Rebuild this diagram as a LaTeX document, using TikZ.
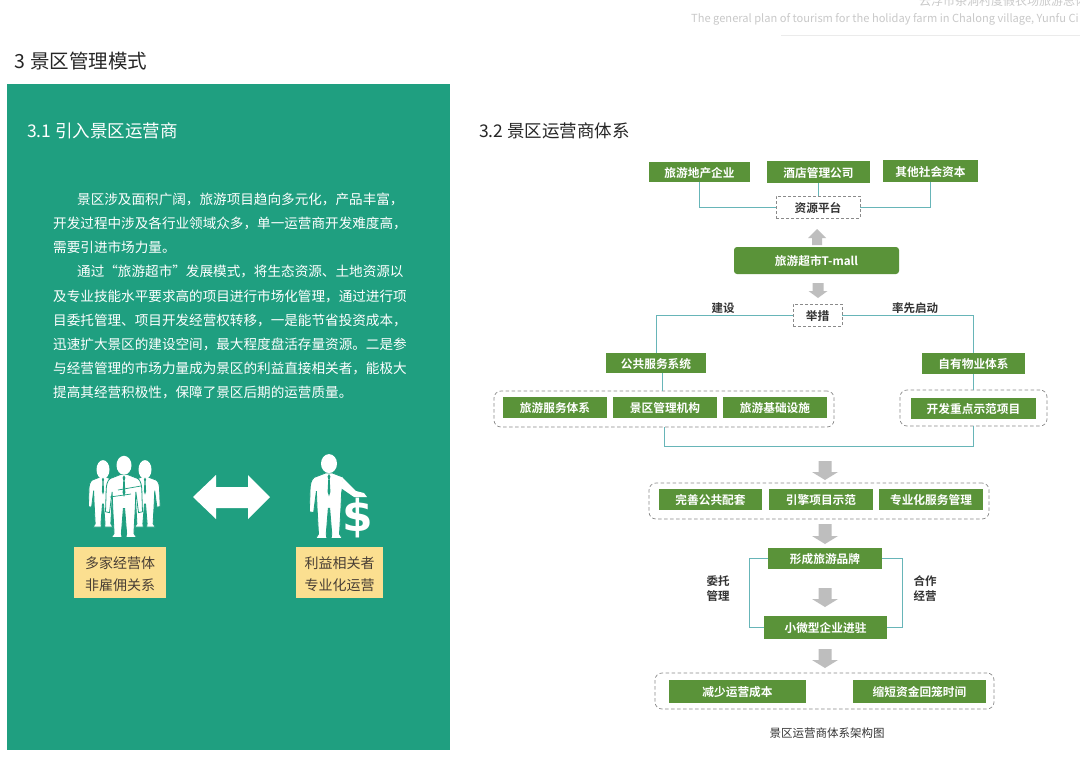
\documentclass[tikz,border=0pt]{standalone}
\usepackage{fontspec}
\setmainfont{Noto Sans CJK SC}[BoldFont=* Bold]
\newfontfamily\iconfont{DejaVu Sans}[BoldFont=* Bold]
\definecolor{panel}{HTML}{1F9F80}
\definecolor{leaf}{HTML}{5A9339}
\definecolor{teal}{HTML}{67B5B8}
\definecolor{arrowgray}{HTML}{BEBEBE}
\definecolor{dashgray}{HTML}{8A8A8A}
\definecolor{labelyellow}{HTML}{FBDF90}
\definecolor{darktext}{HTML}{333333}
\definecolor{paletext}{HTML}{C9C9C9}
\tikzset{
  gbox/.style={fill=leaf,text=white,inner sep=0pt,text height=11pt,text depth=1pt,font=\fontsize{11.7}{13}\selectfont\bfseries,draw=none},
  dashbox/.style={draw=dashgray,dash pattern=on 3pt off 2pt,line width=.7pt,fill=white,inner sep=0pt,text height=11pt,text depth=1pt,text=darktext,font=\fontsize{11.7}{13}\selectfont\bfseries},
  groupbox/.style={draw=dashgray,dash pattern=on 3.5pt off 2.5pt,line width=.7pt,rounded corners=7pt,inner sep=0pt},
  wire/.style={draw=teal,line width=.9pt},
  graylabel/.style={text=darktext,inner sep=0pt,font=\fontsize{11.5}{15}\selectfont\bfseries,align=center},
  heading/.style={inner sep=0pt,anchor=west},
  yellowbox/.style={fill=labelyellow,inner sep=0pt},
  yellowtext/.style={text=darktext!85!brown,inner sep=0pt,align=center,font=\fontsize{14}{22}\selectfont},
  figure/.style={fill=white,draw=panel,line width=.8pt},
}
% block arrow: centre x, tail y, tip y, half head width, half shaft width, head length
\newcommand{\blockarrow}[6]{%
  \fill[arrowgray] (#1-#5,#2) -- (#1+#5,#2) -- (#1+#5,{#3+(#2>#3?1:-1)*#6}) -- (#1+#4,{#3+(#2>#3?1:-1)*#6}) -- (#1,#3) -- (#1-#4,{#3+(#2>#3?1:-1)*#6}) -- (#1-#5,{#3+(#2>#3?1:-1)*#6}) -- cycle;}
\newcommand{\hangingarm}{(18,42) -- (22,67) -- (28,66) -- (27,40) .. controls (27,34) and (25,28) .. (21,26)}
\newcommand{\raisedarm}{(18,44) -- (20,34) -- (21,26)}
% white standing figure: x, y of head top, x scale, y scale, half head width (pt), right-arm path
\newcommand{\suitman}[6]{%
 \begin{scope}[shift={(#1,#2)},x=#3 pt,y=-#4 pt]
  \path[figure] (-5,21) -- (-21,26) .. controls (-25,28) and (-27,34) .. (-27,40) -- (-28,66) -- (-22,67) -- (-18,42) -- (-17,62) -- (-15,92) -- (-19,97) -- (-3,97) -- (-4,92) -- (-1,62) -- (1,62) -- (4,92) -- (3,97) -- (19,97) -- (15,92) -- (17,62) -- #6 -- (5,21) -- cycle;
  \fill[white] (0,10) ellipse (#5pt and 9.5pt);
  \fill[panel] (0,22) -- (-2,25) -- (-1,28) -- (-2,43) -- (0,48) -- (2,43) -- (1,28) -- (2,25) -- cycle;
 \end{scope}}
\begin{document}
\begin{tikzpicture}[x=1pt,y=-1pt]
\useasboundingbox (0,0) rectangle (1080,774);
\clip (0,0) rectangle (1080,774);
\fill[white] (0,0) rectangle (1080,774);
% header
\node[heading,text=paletext,font=\fontsize{12}{14}\selectfont] (hcn) at (919,1) {云浮市茶洞村度假农场旅游总体规划};
\node[heading,text=paletext,font=\fontsize{11.1}{14}\selectfont] (hen) at (691,19.5) {The general plan of tourism for the holiday farm in Chalong village, Yunfu Ci};
\draw[draw=black!8,line width=1pt] (781,35) -- (1080,35);
% titles
\node[heading,text=black!85,font=\fontsize{19.5}{22}\selectfont] (t3) at (14,61) {3\hspace{1pt} 景区管理模式};
\fill[panel] (7,84) rectangle (450,750);
\node[heading,text=white,font=\fontsize{17.5}{20}\selectfont] (t31) at (27,131) {3.1 引入景区运营商};
\node[heading,text=black!85,font=\fontsize{17.5}{20}\selectfont] (t32) at (479,131) {3.2 景区运营商体系};
% paragraph
\node[anchor=north west,inner sep=0pt,text=white,align=left,font=\fontsize{13.6}{24.2}\selectfont] (para) at (53,192.5) {%
\hspace*{24pt}景区涉及面积广阔，旅游项目趋向多元化，产品丰富，\\
开发过程中涉及各行业领域众多，单一运营商开发难度高，\\
需要引进市场力量。\\
\hspace*{24pt}通过“旅游超市”发展模式，将生态资源、土地资源以\\
及专业技能水平要求高的项目进行市场化管理，通过进行项\\
目委托管理、项目开发经营权转移，一是能节省投资成本，\\
迅速扩大景区的建设空间，最大程度盘活存量资源。二是参\\
与经营管理的市场力量成为景区的利益直接相关者，能极大\\
提高其经营积极性，保障了景区后期的运营质量。};
% icons
\suitman{103}{463}{.52}{.66}{6.5}{\hangingarm}
\suitman{145}{463}{.54}{.66}{6.5}{\hangingarm}
\suitman{124}{457}{.66}{.83}{7.5}{\hangingarm}
\draw[panel,line width=.7pt] (110,497) -- (131,494) (118,490) -- (141,486);
\suitman{329}{455}{.7}{.86}{8}{\raisedarm}
\node[inner sep=0pt,text=white,font=\iconfont\fontsize{44}{44}\selectfont\bfseries] (dollar) at (358,518) {\$};
\fill[white] (343,478) -- (356,491) -- (364,493) -- (367,497) -- (354,497) -- (341,488) -- cycle;
\fill[white] (193,497) -- (216,475) -- (216,487) -- (248,487) -- (248,475) -- (270,497) -- (248,519) -- (248,508) -- (216,508) -- (216,519) -- cycle;
\node[yellowbox,minimum width=92pt,minimum height=51pt] (ylw1) at (120,572.5) {};
\node[yellowtext] (ylw1t) at (120,574) {多家经营体\\非雇佣关系};
\node[yellowbox,minimum width=87pt,minimum height=51pt] (ylw2) at (339.5,572.5) {};
\node[yellowtext] (ylw2t) at (339.5,574) {利益相关者\\专业化运营};
% groups
\node[groupbox,minimum width=340pt,minimum height=36pt] (g1) at (664,409) {};
\node[groupbox,minimum width=147pt,minimum height=36pt] (g2) at (973.5,408) {};
\node[groupbox,minimum width=340pt,minimum height=36pt] (g3) at (819,501) {};
\node[groupbox,minimum width=339pt,minimum height=36pt] (g4) at (824.5,691) {};
% green boxes
\node[gbox,minimum width=101pt,minimum height=20pt] (a1) at (699.5,172) {旅游地产企业};
\node[gbox,minimum width=103pt,minimum height=22pt] (a2) at (818.5,172) {酒店管理公司};
\node[gbox,minimum width=95pt,minimum height=22pt] (a3) at (930.5,171) {其他社会资本};
\node[dashbox,minimum width=84pt,minimum height=22pt] (plat) at (818,207) {资源平台};
\node[gbox,rounded corners=3pt,minimum width=165pt,minimum height=27pt] (tmall) at (816.5,260.5) {旅游超市T-mall};
\node[dashbox,minimum width=49pt,minimum height=22pt] (meas) at (817.5,315) {举措};
\node[gbox,minimum width=100pt,minimum height=20pt] (pub) at (656,363) {公共服务系统};
\node[gbox,minimum width=103pt,minimum height=21pt] (own) at (973.5,363.5) {自有物业体系};
\node[gbox,minimum width=104pt,minimum height=21pt] (b1) at (555,407.5) {旅游服务体系};
\node[gbox,minimum width=104pt,minimum height=21pt] (b2) at (665,407.5) {景区管理机构};
\node[gbox,minimum width=104pt,minimum height=21pt] (b3) at (775,407.5) {旅游基础设施};
\node[gbox,minimum width=125pt,minimum height=21pt] (b4) at (973.5,408.5) {开发重点示范项目};
\node[gbox,minimum width=103pt,minimum height=21pt] (c1) at (710.5,499.5) {完善公共配套};
\node[gbox,minimum width=104pt,minimum height=21pt] (c2) at (821,499.5) {引擎项目示范};
\node[gbox,minimum width=104pt,minimum height=21pt] (c3) at (931,499.5) {专业化服务管理};
\node[gbox,minimum width=114pt,minimum height=21pt] (brand) at (825,558.5) {形成旅游品牌};
\node[gbox,minimum width=123pt,minimum height=23pt] (small) at (825.5,627.5) {小微型企业进驻};
\node[gbox,minimum width=137pt,minimum height=23pt] (d1) at (737.5,691.5) {减少运营成本};
\node[gbox,minimum width=133pt,minimum height=23pt] (d2) at (919.5,691.5) {缩短资金回笼时间};
% labels
\node[graylabel] (l1) at (723,308) {建设};
\node[graylabel] (l2) at (915,308) {率先启动};
\node[graylabel] (l3) at (718,589) {委托\\管理};
\node[graylabel] (l4) at (925,589) {合作\\经营};
\node[inner sep=0pt,text=darktext,font=\fontsize{11.5}{14}\selectfont] (cap) at (827,733) {景区运营商体系架构图};
% arrows
\blockarrow{817}{245}{229}{9}{5}{9}
\blockarrow{818}{283}{298}{9.5}{5.5}{7}
\blockarrow{825}{461}{480}{13}{6.5}{8}
\blockarrow{825}{524}{544}{13}{6.5}{8}
\blockarrow{825}{588}{607}{13}{6.5}{8}
\blockarrow{825}{649}{668}{13}{6.5}{8}
% connectors
\coordinate (bus) at (0,446);
\coordinate (leftrail) at (749,0);
\coordinate (rightrail) at (902,0);
\coordinate (pubdrop) at (662,0);
\draw[wire] (a1.south) |- (plat.west);
\draw[wire] (a3.south) |- (plat.east);
\draw[wire] (plat.north) -- (plat.north |- a2.south);
\draw[wire] (meas.west) -| (pub.north);
\draw[wire] (meas.east) -| (own.north);
\draw[wire] (pub.south -| pubdrop) -- (g1.north -| pubdrop);
\draw[wire] (own.south) -- (g2.north);
\draw[wire] (g1.south) -- (g1.south |- bus) -- (g2.south |- bus) -- (g2.south);
\draw[wire] (brand.west) -- (brand.west -| leftrail) -- (small.west -| leftrail) -- (small.west);
\draw[wire] (brand.east) -- (brand.east -| rightrail) -- (small.east -| rightrail) -- (small.east);
\end{tikzpicture}
\end{document}
